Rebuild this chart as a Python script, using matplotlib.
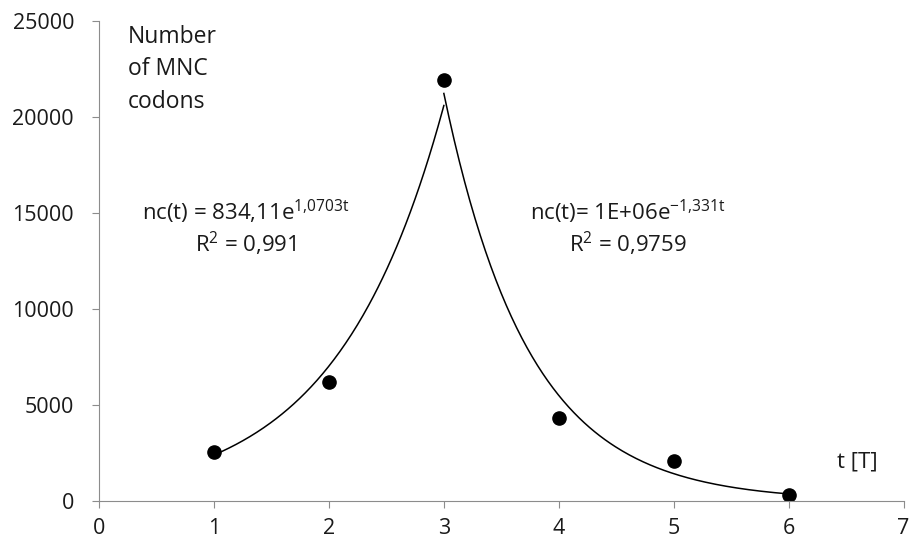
import numpy as np
import matplotlib.pyplot as plt

t = [1, 2, 3, 4, 5, 6]
codons = [2550, 6200, 21900, 4330, 2080, 310]
xticks = [0, 1, 2, 3, 4, 5, 6, 7]
yticks = [0, 5000, 10000, 15000, 20000, 25000]

plt.rcParams['font.family'] = ['Open Sans', 'DejaVu Sans']
plt.rcParams['mathtext.fontset'] = 'custom'
plt.rcParams['mathtext.rm'] = 'Open Sans'

fig = plt.figure(figsize=(9.09, 5.46), dpi=100)
ax = fig.add_axes([0.109, 0.0824, 0.885, 0.880])

# exponential trendlines, fitted like Excel does (log-linear least squares)
tt = np.array(t, dtype=float)
yy = np.array(codons, dtype=float)
for lo, hi in [(0, 3), (2, 6)]:
    b, a = np.polyfit(tt[lo:hi], np.log(yy[lo:hi]), 1)
    xs = np.linspace(tt[lo], tt[hi - 1], 200)
    ax.plot(xs, np.exp(a + b * xs), color='black', lw=1.1)

ax.plot(t, codons, 'o', color='black', ms=9.5)

ax.set_xlim(0, 7)
ax.set_ylim(0, 25000)
ax.set_xticks(xticks)
ax.set_yticks(yticks)
for s in ['top', 'right']:
    ax.spines[s].set_visible(False)
for s in ['left', 'bottom']:
    ax.spines[s].set_color('#8c8c8c')
ax.tick_params(axis='both', colors='#8c8c8c', labelcolor='#1a1a1a',
               labelsize=15.5, length=5, direction='out')
ax.tick_params(axis='x', pad=7)
ax.tick_params(axis='y', pad=13)

tc = '#1a1a1a'
ax.text(0.25, 24750, 'Number\nof MNC\ncodons', fontsize=16.5, va='top',
        ha='left', linespacing=1.45, color=tc)
ax.text(1.28, 15050, r'nc(t) = 834,11e$^{\mathregular{1{,}0703t}}$',
        fontsize=16, ha='center', va='center', color=tc)
ax.text(1.28, 13400, r'R$^{\mathregular{2}}$ = 0,991', fontsize=16,
        ha='center', va='center', color=tc)
ax.text(4.6, 15050, r'nc(t)= 1E+06e$^{\mathregular{-1{,}331t}}$',
        fontsize=16, ha='center', va='center', color=tc)
ax.text(4.6, 13400, r'R$^{\mathregular{2}}$ = 0,9759', fontsize=16,
        ha='center', va='center', color=tc)
ax.text(6.6, 2030, 't [T]', fontsize=16, ha='center', va='center', color=tc)

fig.savefig('out.png', dpi=100)
